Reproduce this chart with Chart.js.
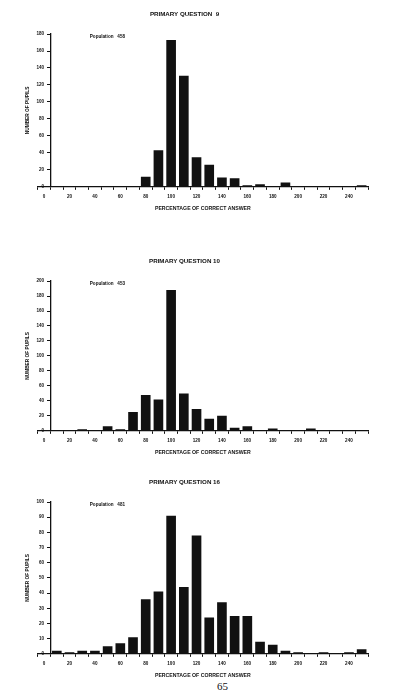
<!DOCTYPE html>
<html>
<head>
<meta charset="utf-8">
<script src="https://cdn.jsdelivr.net/npm/chart.js@4.4.1/dist/chart.umd.min.js"></script>
<style>
  body { margin: 0; background: #fff; }
  .box { position: absolute; left: 0; width: 393px; }
  #pageNo { position: absolute; left: 0; width: 445px; top: 680px; text-align: center;
            font-family: "Liberation Serif", serif; font-size: 11px; color: #111; }
</style>
</head>
<body>
<div class="box" style="top:0px;height:212px"><canvas id="q9"></canvas></div>
<div class="box" style="top:247px;height:209px"><canvas id="q10"></canvas></div>
<div class="box" style="top:468px;height:211px"><canvas id="q16"></canvas></div>
<div id="pageNo">65</div>
<script>
// bins of percentage of correct answer
const categories = ['0','10','20','30','40','50','60','70','80','90','100','110','120',
  '130','140','150','160','170','180','190','200','210','220','230','240','250'];
const xTickLabels = ['0','20','40','60','80','100','120','140','160','180','200','220','240'];

// number of pupils per bin
const q9Counts  = [0,0,0,0,0,0,1,1,12,43,173,131,35,26,11,10,2,3,1,5,0,0,1,0,0,2];
const q10Counts = [0,0,0,2,1,6,2,25,48,42,188,50,29,16,20,4,6,1,3,0,0,3,0,1,0,0];
const q16Counts = [0,2,1,2,2,5,7,11,36,41,91,44,78,24,34,25,25,8,6,2,1,0,1,0,1,3];

const ink = '#111';
const fam = '"Liberation Sans", Arial, sans-serif';

// "Population  nnn" note in the upper left of the plot
const popPlugin = {
  id: 'popLabel',
  afterDraw(chart, args, opts) {
    const { ctx, chartArea } = chart;
    ctx.save();
    ctx.font = 'bold 4.6px ' + fam;
    ctx.fillStyle = ink;
    ctx.textBaseline = 'middle';
    ctx.fillText(opts.text, chartArea.left + 52, chartArea.top + 3);
    ctx.restore();
  }
};

let histogram = (id, title, counts, yMax, yStep, population) => {
  const ctx = document.getElementById(id);
  const config = {
    type: 'bar',
    data: {
      labels: categories,
      datasets: [{
        data: counts,
        backgroundColor: ink,
        barPercentage: 0.76,
        categoryPercentage: 1
      }]
    },
    options: {
      maintainAspectRatio: false,
      animation: false,
      layout: { padding: { left: 1, right: 25, top: 0, bottom: 0 } },
      plugins: {
        legend: { display: false },
        tooltip: { enabled: false },
        title: {
          display: true, text: title, color: ink,
          font: { family: fam, size: 6.2, weight: 'bold' },
          padding: { top: 10.3, bottom: 16.3 }
        },
        popLabel: { text: 'Population   ' + population }
      },
      scales: {
        x: {
          type: 'category',
          offset: true,
          grid: { offset: true, drawOnChartArea: false, tickLength: 3, color: ink, lineWidth: 1 },
          border: { color: ink, width: 1.3 },
          ticks: {
            autoSkip: false, maxRotation: 0, padding: 4, color: ink,
            font: { family: fam, size: 4.6, weight: 'bold' },
            callback: (v, i) => xTickLabels.includes(categories[i]) ? categories[i] : ''
          },
          title: {
            display: true, text: 'PERCENTAGE OF CORRECT ANSWER', color: ink,
            font: { family: fam, size: 5.2, weight: 'bold' },
            padding: { top: 2.4, bottom: 0 }
          }
        },
        y: {
          axis: 'y',
          position: { x: 0.5 },
          min: 0, max: yMax,
          grid: { drawOnChartArea: false, tickLength: 3, color: ink, lineWidth: 1 },
          border: { color: ink, width: 1.3 },
          ticks: {
            stepSize: yStep, color: ink,
            font: { family: fam, size: 4.6, weight: 'bold' },
            callback: v => v + '     '
          }
        },
        yt: {
          axis: 'y',
          type: 'linear',
          position: 'left',
          grid: { display: false, drawTicks: false },
          border: { display: false },
          ticks: { display: false },
          title: {
            display: true, text: 'NUMBER OF PUPILS', color: ink,
            font: { family: fam, size: 4.8, weight: 'bold' },
            padding: { top: 24, bottom: 7 }
          }
        }
      }
    },
    plugins: [popPlugin]
  };
  const chart = new Chart(ctx, config);
};

histogram('q9', 'PRIMARY QUESTION  9', q9Counts, 180, 20, 458);
histogram('q10', 'PRIMARY QUESTION 10', q10Counts, 200, 20, 453);
histogram('q16', 'PRIMARY QUESTION 16', q16Counts, 100, 10, 481);
</script>
</body>
</html>
